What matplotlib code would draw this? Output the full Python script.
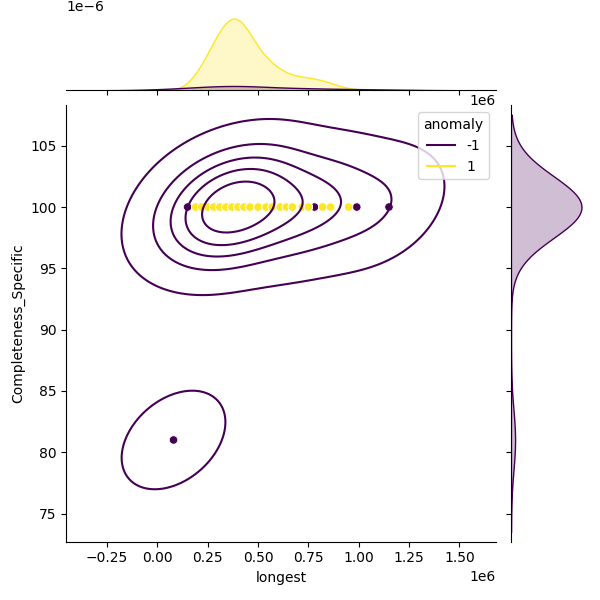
import numpy as np
import pandas as pd
import matplotlib
matplotlib.use("Agg")
import matplotlib.pyplot as plt
import seaborn as sns

# anomaly == -1 points
neg_x = [0.08, 0.15, 0.22, 0.28, 0.31, 0.35, 0.37, 0.40, 0.40, 0.43,
         0.46, 0.50, 0.57, 0.72, 0.78, 0.78, 0.99, 1.15]
neg_y = [81, 100, 100, 100, 100, 100, 100, 100, 100, 100,
         100, 100, 100, 100, 100, 100, 100, 100]

# anomaly == 1 points (all at 100), unique x and how many rows at that x
pos_x = [0.19, 0.22, 0.25, 0.28, 0.31, 0.34, 0.37, 0.40, 0.43, 0.46, 0.50,
         0.54, 0.57, 0.61, 0.64, 0.67, 0.72, 0.75, 0.82, 0.86, 0.95]
pos_n = [3, 4, 6, 9, 11, 13, 15, 15, 13, 11, 9,
         7, 5, 4, 3, 3, 3, 4, 4, 2, 1]

px = np.repeat(pos_x, pos_n)
df = pd.DataFrame({
    "longest": np.concatenate([neg_x, px]) * 1e6,
    "Completeness_Specific": np.concatenate([neg_y, np.full(len(px), 100)]),
    "anomaly": [-1] * len(neg_x) + [1] * len(px),
})

g = sns.JointGrid(data=df, x="longest", y="Completeness_Specific",
                  hue="anomaly", palette="viridis")
g.plot_joint(sns.kdeplot, levels=6)
g.plot_marginals(sns.kdeplot, fill=True)
sns.scatterplot(data=df, x="longest", y="Completeness_Specific", hue="anomaly",
                palette="viridis", ax=g.ax_joint, legend=False)

plt.savefig("out.png", dpi=100)
